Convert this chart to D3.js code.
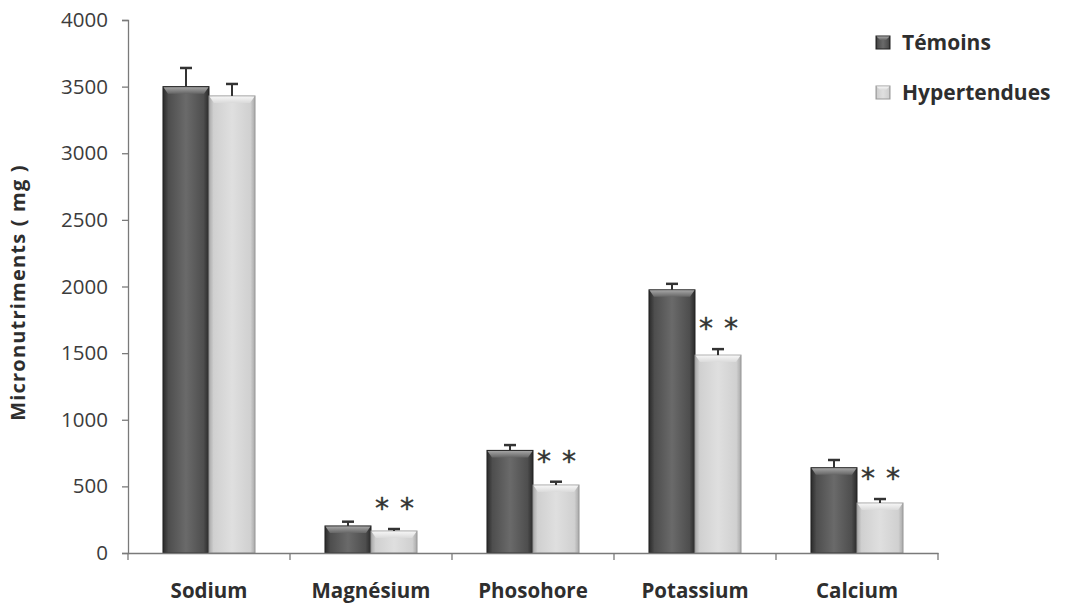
<!DOCTYPE html>
<html>
<head>
<meta charset="utf-8">
<script src="https://cdn.jsdelivr.net/npm/d3@7"></script>
<style>
  html, body { margin: 0; padding: 0; background: #fff; }
  svg { display: block; }
</style>
</head>
<body>
<svg id="chart" width="1069" height="610"></svg>
<script>
// Dietary micronutrient intake, controls vs hypertensive women
const categories = ["Sodium", "Magnésium", "Phosohore", "Potassium", "Calcium"];
const seriesNames = ["Témoins", "Hypertendues"];
const temoins = [3500, 203, 770, 1975, 640];
const temoinsErr = [140, 32, 40, 45, 58];
const hypertendues = [3430, 165, 510, 1485, 375];
const hypertenduesErr = [90, 15, 25, 45, 30];
const significance = ["", "**", "**", "**", "**"];
const yTicks = [0, 500, 1000, 1500, 2000, 2500, 3000, 3500, 4000];
const yTitle = "Micronutriments ( mg )";

const svg = d3.select("#chart");
const margin = { left: 128, right: 131, top: 20, bottom: 57 };
const W = 1069, H = 610;

const x = d3.scaleBand().domain(categories)
  .range([margin.left, W - margin.right]).paddingInner(0).paddingOuter(0);
const inner = d3.scaleBand().domain(seriesNames)
  .range([0, x.bandwidth()]).paddingInner(0).paddingOuter(0.76);
const y = d3.scaleLinear().domain([0, 4000]).range([H - margin.bottom, margin.top]);

// Gradients for the bevelled bars
const defs = svg.append("defs");
function hGrad(id, stops) {
  const g = defs.append("linearGradient").attr("id", id)
    .attr("x1", "0").attr("x2", "1").attr("y1", "0").attr("y2", "0");
  stops.forEach(s => g.append("stop").attr("offset", s[0]).attr("stop-color", s[1]));
}
hGrad("gDark", [[0, "#2a2a2a"], [0.12, "#4e4e4e"], [0.5, "#6a6a6a"], [0.88, "#4e4e4e"], [1, "#2a2a2a"]]);
hGrad("gLight", [[0, "#a8a8a8"], [0.1, "#d0d0d0"], [0.5, "#dfdfdf"], [0.9, "#d0d0d0"], [1, "#a8a8a8"]]);
const vTop = (id, a, b) => {
  const g = defs.append("linearGradient").attr("id", id)
    .attr("x1", "0").attr("x2", "0").attr("y1", "0").attr("y2", "1");
  g.append("stop").attr("offset", 0).attr("stop-color", a);
  g.append("stop").attr("offset", 1).attr("stop-color", b);
};
vTop("tDark", "#a5a5a5", "#666");
vTop("tLight", "#f6f6f6", "#dadada");

const styles = {
  "Témoins": { fill: "url(#gDark)", top: "url(#tDark)", stroke: "#222" },
  "Hypertendues": { fill: "url(#gLight)", top: "url(#tLight)", stroke: "#999" }
};

const rows = categories.map((c, i) => ({
  cat: c,
  sig: significance[i],
  bars: [
    { s: "Témoins", v: temoins[i], e: temoinsErr[i] },
    { s: "Hypertendues", v: hypertendues[i], e: hypertenduesErr[i] }
  ]
}));

// Axes
const axisColor = "#7a7a7a";
const yAxis = svg.append("g").attr("transform", `translate(${margin.left},0)`)
  .call(d3.axisLeft(y).tickValues(yTicks).tickSize(6).tickPadding(14).tickFormat(d3.format("d")));
yAxis.select(".domain").attr("stroke", axisColor).attr("stroke-width", 1.3);
yAxis.selectAll(".tick line").attr("stroke", axisColor).attr("stroke-width", 1.3);
yAxis.selectAll(".tick text")
  .attr("font-family", "'Open Sans', sans-serif").attr("font-size", 20.5)
  .attr("fill", "#3c3c3c");

// Bars
const groups = svg.append("g").selectAll("g").data(rows).join("g")
  .attr("transform", d => `translate(${x(d.cat)},0)`);

const bar = groups.selectAll("g.bar").data(d => d.bars).join("g").attr("class", "bar");
bar.append("rect")
  .attr("x", d => inner(d.s))
  .attr("y", d => y(d.v))
  .attr("width", inner.bandwidth())
  .attr("height", d => y(0) - y(d.v))
  .attr("fill", d => styles[d.s].fill)
  .attr("stroke", d => styles[d.s].stroke)
  .attr("stroke-width", 1);
// top bevel
bar.append("path")
  .attr("d", d => {
    const x0 = inner(d.s), x1 = x0 + inner.bandwidth(), y0 = y(d.v);
    const h = Math.min(7, (y(0) - y0) / 2), k = 5;
    return `M${x0 + 0.5},${y0 + 0.5}L${x1 - 0.5},${y0 + 0.5}L${x1 - k},${y0 + h}L${x0 + k},${y0 + h}Z`;
  })
  .attr("fill", d => styles[d.s].top)
  .attr("stroke", "none");

// Error bars (upper whisker)
const err = groups.selectAll("g.err").data(d => d.bars).join("g").attr("class", "err");
err.append("line")
  .attr("x1", d => inner(d.s) + inner.bandwidth() / 2)
  .attr("x2", d => inner(d.s) + inner.bandwidth() / 2)
  .attr("y1", d => y(d.v))
  .attr("y2", d => y(d.v + d.e))
  .attr("stroke", "#333").attr("stroke-width", 2);
err.append("line")
  .attr("x1", d => inner(d.s) + inner.bandwidth() / 2 - 6)
  .attr("x2", d => inner(d.s) + inner.bandwidth() / 2 + 6)
  .attr("y1", d => y(d.v + d.e))
  .attr("y2", d => y(d.v + d.e))
  .attr("stroke", "#333").attr("stroke-width", 2.5);

// Significance stars above the hypertensive bar
groups.append("text")
  .attr("x", d => inner("Hypertendues") + inner.bandwidth() / 2 + 6)
  .attr("y", d => y(d.bars[1].v + d.bars[1].e) - 11)
  .attr("text-anchor", "middle")
  .attr("font-family", "'DejaVu Sans', sans-serif")
  .attr("font-size", 28)
  .attr("letter-spacing", 11)
  .attr("fill", "#333")
  .attr("stroke", "#333").attr("stroke-width", 0.4)
  .text(d => d.sig);

// X axis
const xAxis = svg.append("g").attr("transform", `translate(0,${y(0)})`)
  .call(d3.axisBottom(x).tickSize(0).tickPadding(30));
xAxis.select(".domain").attr("stroke", axisColor).attr("stroke-width", 1.3);
xAxis.selectAll(".tick text")
  .attr("font-family", "'Open Sans', sans-serif").attr("font-size", 20.5)
  .attr("font-weight", "bold").attr("fill", "#2e2e2e");
// boundary ticks between categories
const bounds = categories.map(c => x(c)).concat([x.range()[1]]);
xAxis.selectAll("line.bound").data(bounds).join("line").attr("class", "bound")
  .attr("x1", d => d).attr("x2", d => d).attr("y1", 0).attr("y2", 7)
  .attr("stroke", axisColor).attr("stroke-width", 1.3);

// Y title
svg.append("text")
  .attr("transform", `translate(25,${(y(0) + y(4000)) / 2 + 6}) rotate(-90)`)
  .attr("text-anchor", "middle")
  .attr("font-family", "'Open Sans', sans-serif").attr("font-size", 20)
  .attr("font-weight", "bold").attr("letter-spacing", 1.2).attr("fill", "#2e2e2e")
  .text(yTitle);

// Legend
const legend = svg.append("g").attr("transform", "translate(876,0)");
const lg = legend.selectAll("g").data(seriesNames).join("g")
  .attr("transform", (d, i) => `translate(0,${42 + i * 50})`);
lg.append("rect").attr("x", 0).attr("y", -6).attr("width", 14).attr("height", 13)
  .attr("fill", d => styles[d].fill).attr("stroke", d => styles[d].stroke);
lg.append("path").attr("d", "M0.5,-5.5L13.5,-5.5L10,-2L4,-2Z").attr("fill", d => styles[d].top);
lg.append("text").attr("x", 26).attr("y", 8)
  .attr("font-family", "'Open Sans', sans-serif").attr("font-size", 21)
  .attr("font-weight", "bold").attr("fill", "#2e2e2e")
  .text(d => d);
</script>
</body>
</html>
